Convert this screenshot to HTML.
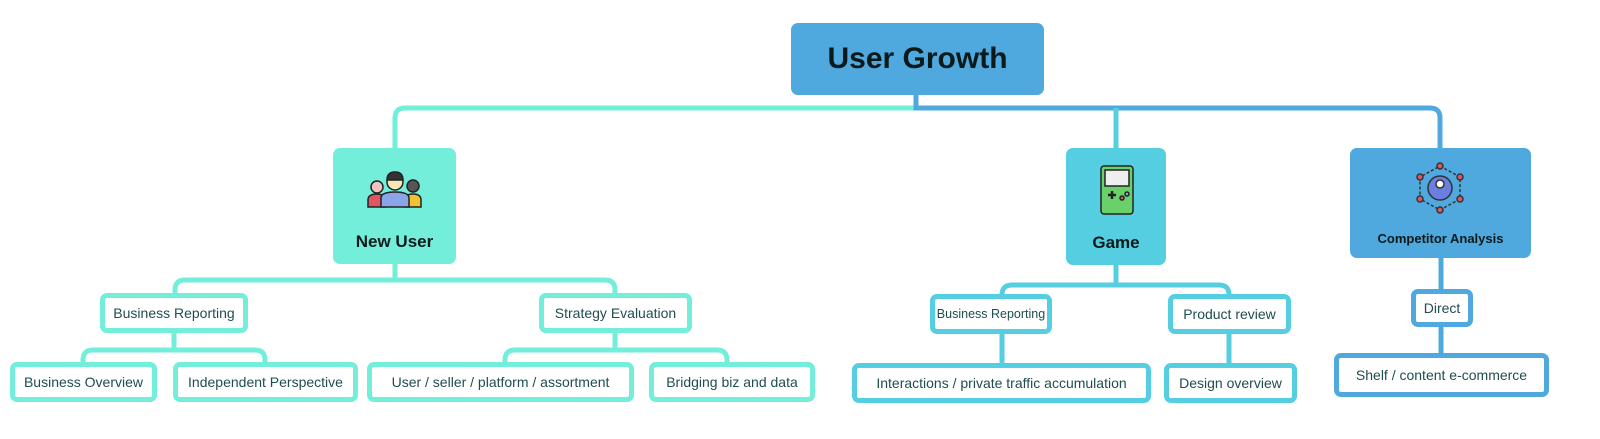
<!DOCTYPE html>
<html><head><meta charset="utf-8"><style>
body{margin:0;width:1600px;height:439px;background:#fff;position:relative;overflow:hidden;font-family:"Liberation Sans",sans-serif}
.b{position:absolute;box-sizing:border-box;background:#fff;border:5px solid;border-radius:7px;display:flex;align-items:center;justify-content:center;font-size:14px;color:#1f4d4f;white-space:nowrap}
.t{border-color:#72EEDB}.c{border-color:#56CEE2}.u{border-color:#4FA8DE}
.m{position:absolute;border-radius:7px;display:flex;flex-direction:column;align-items:center;justify-content:flex-end;font-weight:bold;color:#0a1a1a}
svg{position:absolute;left:0;top:0}
</style></head><body>
<svg width="1600" height="439" fill="none" stroke-width="5">
<path d="M916 95 V108 H405 Q395 108 395 118 V148" stroke="#72EEDB"/>
<path d="M916 95 V108 H1430 Q1440 108 1440 118 V148" stroke="#4FA8DE"/>
<path d="M1116 108 V148" stroke="#56CEE2"/>
<path d="M395 264 V280 M185 280 H605 M175 293 V290 Q175 280 185 280 M605 280 Q615 280 615 290 V293" stroke="#72EEDB"/>
<path d="M174 333 V350 M93 350 H255 M83 362 V360 Q83 350 93 350 M255 350 Q265 350 265 360 V362" stroke="#72EEDB"/>
<path d="M615 333 V350 M515 350 H717 M505 362 V360 Q505 350 515 350 M717 350 Q727 350 727 360 V362" stroke="#72EEDB"/>
<path d="M1116 265 V285 H1219 Q1229 285 1229 295 M1116 285 H1012 Q1002 285 1002 295 M1002 334 V363 M1229 334 V363" stroke="#56CEE2"/>
<path d="M1441 258 V289 M1441 327 V353" stroke="#4FA8DE"/>
</svg>
<div class="m" style="left:791px;top:23px;width:253px;height:72px;background:#4FA8DE;font-size:30px;justify-content:center">User Growth</div>
<div class="m" style="left:333px;top:148px;width:123px;height:116px;background:#72EEDB;font-size:17px;padding-bottom:12px;box-sizing:border-box">
<svg style="position:absolute;left:32px;top:22px" width="60" height="40" viewBox="0 0 60 40" stroke-width="1.5" stroke="#222"><path d="M3 37 V30 Q3 24 12 24 Q20 24 20 30 V37Z" fill="#e05560"/><circle cx="12" cy="17" r="6" fill="#f1c4c0"/><path d="M40 37 V30 Q40 24 48 24 Q56 24 56 30 V37Z" fill="#f2c230"/><circle cx="48" cy="16" r="6" fill="#555"/><path d="M16 37 V28 Q16 22 30 22 Q44 22 44 28 V37Z" fill="#8aa6e8"/><circle cx="30" cy="12" r="8" fill="#fbe8b8"/><path d="M22 10 Q22 2 30 2 Q38 2 38 10 Z" fill="#333"/></svg>
New User</div>
<div class="m" style="left:1066px;top:148px;width:100px;height:117px;background:#56CEE2;font-size:17px;padding-bottom:12px;box-sizing:border-box">
<svg style="position:absolute;left:34px;top:17px" width="34" height="50" viewBox="0 0 34 50" stroke="#222" stroke-width="1.5"><rect x="1" y="1" width="32" height="48" rx="3" fill="#6ad16a"/><rect x="5" y="5" width="24" height="16" fill="#eee"/><path d="M8 30 h8 M12 26 v8" stroke-width="2.5"/><circle cx="22" cy="33" r="2" fill="#e05560"/><circle cx="27" cy="29" r="2" fill="#8aa6e8"/></svg>
Game</div>
<div class="m" style="left:1350px;top:148px;width:181px;height:110px;background:#4FA8DE;font-size:13px;padding-bottom:12px;box-sizing:border-box">
<svg style="position:absolute;left:66px;top:14px" width="48" height="52" viewBox="0 0 48 52" stroke="#333" stroke-width="1.5"><path d="M24 4 L44 15 V37 L24 48 L4 37 V15Z" fill="none" stroke-dasharray="3 2"/><circle cx="24" cy="26" r="12" fill="#6a7fe0"/><circle cx="24" cy="22" r="4" fill="#fff"/><g fill="#e05560"><circle cx="24" cy="4" r="3"/><circle cx="44" cy="15" r="3"/><circle cx="44" cy="37" r="3"/><circle cx="24" cy="48" r="3"/><circle cx="4" cy="37" r="3"/><circle cx="4" cy="15" r="3"/></g></svg>
Competitor Analysis</div>
<div class="b t" style="left:100px;top:293px;width:148px;height:40px">Business Reporting</div>
<div class="b t" style="left:539px;top:293px;width:153px;height:40px">Strategy Evaluation</div>
<div class="b t" style="left:10px;top:362px;width:147px;height:40px">Business Overview</div>
<div class="b t" style="left:173px;top:362px;width:185px;height:40px">Independent Perspective</div>
<div class="b t" style="left:367px;top:362px;width:267px;height:40px">User / seller / platform / assortment</div>
<div class="b t" style="left:649px;top:362px;width:166px;height:40px">Bridging biz and data</div>
<div class="b c" style="left:930px;top:294px;width:122px;height:40px;font-size:12.5px">Business Reporting</div>
<div class="b c" style="left:1168px;top:294px;width:123px;height:40px">Product review</div>
<div class="b c" style="left:852px;top:363px;width:299px;height:40px">Interactions / private traffic accumulation</div>
<div class="b c" style="left:1164px;top:363px;width:133px;height:40px">Design overview</div>
<div class="b u" style="left:1411px;top:289px;width:62px;height:38px">Direct</div>
<div class="b u" style="left:1334px;top:353px;width:215px;height:44px">Shelf / content e-commerce</div>
</body></html>
